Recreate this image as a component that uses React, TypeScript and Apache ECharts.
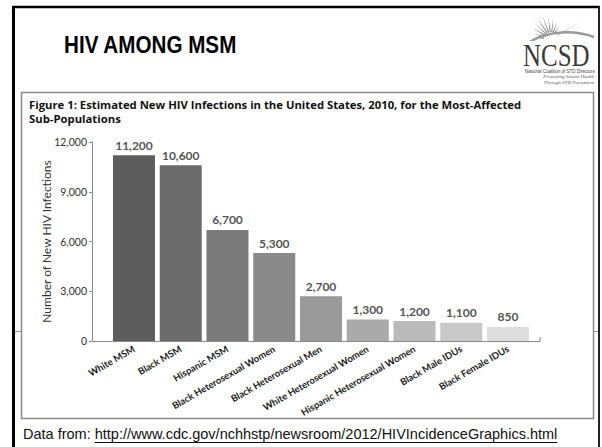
import React, { useEffect, useRef } from "react";
import * as echarts from "echarts";

const categories = [
  "White MSM",
  "Black MSM",
  "Hispanic MSM",
  "Black Heterosexual Women",
  "Black Heterosexual Men",
  "White Heterosexual Women",
  "Hispanic Heterosexual Women",
  "Black Male IDUs",
  "Black Female IDUs",
];
const infections = [11200, 10600, 6700, 5300, 2700, 1300, 1200, 1100, 850];
const yMin = 0;
const yMax = 12000;
const yInterval = 3000;

const slideTitle = "HIV AMONG MSM";
const figureTitle =
  "Figure 1: Estimated New HIV Infections in the United States, 2010, for the Most-Affected\nSub-Populations";
const yAxisName = "Number of New HIV Infections";
const footerPrefix = "Data from: ";
const footerUrl = "http://www.cdc.gov/nchhstp/newsroom/2012/HIVIncidenceGraphics.html";

const barColors = ["#5d5d5d", "#6c6c6c", "#7b7b7b", "#8a8a8a", "#9a9a9a", "#aaaaaa", "#bababa", "#c9c9c9", "#dddddd"];

const fmt = (v: number) => v.toLocaleString("en-US");

function measure(text: string, font: string): number {
  const c = document.createElement("canvas");
  const ctx = c.getContext("2d");
  if (!ctx) return text.length * 7;
  ctx.font = font;
  return ctx.measureText(text).width;
}

function sunRays() {
  const cx = 551;
  const cy = 39;
  const rays: any[] = [];
  const angles = [-175, -162, -149, -136, -123, -110, -97, -84, -71, -58, -30];
  const lens = [16, 19, 22, 24, 26, 25, 23, 21, 18, 15, 36];
  angles.forEach((a, i) => {
    const r = (a * Math.PI) / 180;
    const w = i === angles.length - 1 ? 0.05 : 0.09;
    const len = lens[i];
    rays.push({
      type: "polygon",
      shape: {
        points: [
          [cx + Math.cos(r - w) * 7, cy + Math.sin(r - w) * 7],
          [cx + Math.cos(r) * len, cy + Math.sin(r) * len],
          [cx + Math.cos(r + w) * 7, cy + Math.sin(r + w) * 7],
        ],
      },
      style: { fill: "#8a8a8a" },
    });
  });
  return rays;
}

export default function App() {
  const ref = useRef<HTMLDivElement>(null);

  useEffect(() => {
    if (!ref.current) return;
    const chart = echarts.init(ref.current, null, { renderer: "svg" });

    const footerFont = "14.5px 'Liberation Sans', Arial, sans-serif";
    const prefixW = measure(footerPrefix, footerFont);
    const urlW = measure(footerUrl, footerFont);
    const footerX = 23;
    const footerY = 434;

    const option: any = {
      animation: false,
      backgroundColor: "#ffffff",
      title: {
        text: figureTitle,
        left: 29,
        top: 97,
        padding: 0,
        textStyle: {
          fontFamily: "'Open Sans', Lato, sans-serif",
          fontWeight: "bold",
          fontSize: 11.3,
          lineHeight: 14,
          color: "#111111",
        },
      },
      grid: {
        left: 110.6,
        top: 142,
        width: 420.8,
        height: 199,
        containLabel: false,
      },
      xAxis: {
        type: "category",
        data: categories,
        axisLine: { show: false },
        axisTick: { show: false },
        axisLabel: {
          interval: 0,
          rotate: 30,
          margin: 7,
          fontFamily: "Lato, 'Open Sans', sans-serif",
          fontWeight: "bold",
          fontSize: 9.5,
          color: "#1a1a1a",
        },
      },
      yAxis: {
        type: "value",
        min: yMin,
        max: yMax,
        interval: yInterval,
        offset: 18.6,
        name: yAxisName,
        nameLocation: "middle",
        nameRotate: 90,
        nameGap: 40,
        nameMoveOverlap: false,
        nameTextStyle: {
          fontFamily: "Lato, 'Open Sans', sans-serif",
          fontSize: 12,
          color: "#333333",
        },
        axisLine: { show: true, lineStyle: { color: "#8a8a8a", width: 1 } },
        axisTick: { show: true, length: 3, lineStyle: { color: "#8a8a8a" } },
        axisLabel: {
          formatter: (v: number) => fmt(v),
          margin: 5,
          fontFamily: "Lato, 'Open Sans', sans-serif",
          fontSize: 10.5,
          color: "#333333",
        },
        splitLine: { show: false },
      },
      series: [
        {
          type: "bar",
          data: infections,
          barWidth: 42,
          itemStyle: {
            color: (p: any) => barColors[p.dataIndex],
          },
          label: {
            show: true,
            position: "top",
            distance: 4,
            formatter: (p: any) => fmt(p.value),
            fontFamily: "Lato, 'Open Sans', sans-serif",
            fontWeight: "bold",
            fontSize: 12,
            color: "#555555",
          },
        },
      ],
      graphic: [
        { type: "line", z: -5, shape: { x1: 12, y1: 7, x2: 600, y2: 7 }, style: { stroke: "#000", lineWidth: 2.5 } },
        { type: "line", z: -5, shape: { x1: 13.5, y1: 6, x2: 13.5, y2: 447 }, style: { stroke: "#000", lineWidth: 3 } },
        { type: "line", z: -5, shape: { x1: 599, y1: 6, x2: 599, y2: 447 }, style: { stroke: "#222", lineWidth: 2 } },
        { type: "line", z: -5, shape: { x1: 15, y1: 331.5, x2: 598, y2: 331.5 }, style: { stroke: "#9a9a9a", lineWidth: 1 } },
        {
          type: "rect",
          z: -4,
          shape: { x: 21.5, y: 92.5, width: 572, height: 326 },
          style: { fill: "#ffffff", stroke: "#8a8a8a", lineWidth: 1.5 },
        },
        {
          type: "polyline",
          z: 5,
          shape: { points: [[92, 341.5], [540, 341.5], [540, 337]] },
          style: { stroke: "#8a8a8a", lineWidth: 1, fill: null },
        },
        {
          type: "text",
          x: 64,
          y: 45,
          scaleX: 0.86,
          style: {
            text: slideTitle,
            fontFamily: "'Liberation Sans', Arial, sans-serif",
            fontWeight: "bold",
            fontSize: 24,
            fill: "#000000",
            textVerticalAlign: "middle",
          },
        },
        ...sunRays(),
        {
          type: "bezierCurve",
          shape: { x1: 528, y1: 43, x2: 594, y2: 37, cpx1: 548, cpy1: 30, cpx2: 575, cpy2: 30 },
          style: { stroke: "#9a9a9a", lineWidth: 2.5, fill: null },
        },
        {
          type: "rect",
          shape: { x: 527, y: 41, width: 68, height: 3 },
          style: { fill: "#ffffff" },
        },
        {
          type: "text",
          x: 523,
          y: 55,
          scaleX: 0.78,
          style: {
            text: "NCSD",
            fontFamily: "'Liberation Serif', 'DejaVu Serif', serif",
            fontSize: 32,
            fill: "#3a3a3a",
            textVerticalAlign: "middle",
          },
        },
        {
          type: "text",
          x: 525,
          y: 71,
          style: {
            text: "National Coalition of STD Directors",
            fontFamily: "'Liberation Sans Narrow', 'Liberation Sans', sans-serif",
            fontSize: 4.5,
            fill: "#444",
            textVerticalAlign: "middle",
          },
        },
        {
          type: "text",
          x: 594,
          y: 76.5,
          style: {
            text: "Promoting Sexual Health",
            fontFamily: "'Liberation Serif', serif",
            fontStyle: "italic",
            fontSize: 5,
            fill: "#555",
            textAlign: "right",
            textVerticalAlign: "middle",
          },
        },
        {
          type: "text",
          x: 594,
          y: 82,
          style: {
            text: "Through STD Prevention",
            fontFamily: "'Liberation Serif', serif",
            fontStyle: "italic",
            fontSize: 5,
            fill: "#555",
            textAlign: "right",
            textVerticalAlign: "middle",
          },
        },
        {
          type: "text",
          x: footerX,
          y: footerY,
          style: {
            text: footerPrefix + footerUrl,
            font: footerFont,
            fill: "#111111",
            textVerticalAlign: "middle",
          },
        },
        {
          type: "line",
          shape: { x1: footerX + prefixW, y1: footerY + 8.5, x2: footerX + prefixW + urlW, y2: footerY + 8.5 },
          style: { stroke: "#111111", lineWidth: 1 },
        },
      ],
    };

    chart.setOption(option);
    return () => chart.dispose();
  }, []);

  return (
    <div
      ref={ref}
      style={{ position: "absolute", left: 0, top: 0, width: 602, height: 447, background: "#fff" }}
    />
  );
}
